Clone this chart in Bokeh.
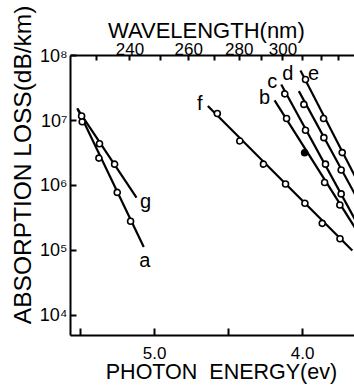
from bokeh.plotting import figure
from bokeh.models import Range1d, LinearAxis, FixedTicker
from bokeh.core.properties import value
from bokeh.embed import file_html
from bokeh.resources import INLINE

# ---------------- data ----------------
HC = 1239.84  # eV*nm, photon energy <-> wavelength

# curve a
a_energy = [5.489, 5.376, 5.252, 5.162]
a_loss = [9.6e6, 2.64e6, 7.8e5, 2.8e5]
a_line_energy = [5.522, 5.073]
a_line_loss = [1.55e7, 1.12e5]
# curve g
g_energy = [5.493, 5.372, 5.270]
g_loss = [1.18e7, 4.4e6, 2.13e6]
g_line_energy = [5.520, 5.122]
g_line_loss = [1.5e7, 6.5e5]
# curve f
f_energy = [4.576, 4.424, 4.264, 4.115, 3.984, 3.867, 3.747]
f_loss = [1.29e7, 4.86e6, 2.13e6, 1.05e6, 5.3e5, 2.6e5, 1.5e5]
f_line_energy = [4.640, 3.664]
f_line_loss = [1.68e7, 9.9e4]
# curve b
b_energy = [4.108, 3.986, 3.851, 3.748]
b_loss = [1.08e7, 3.2e6, 1.11e6, 5.0e5]
b_line_energy = [4.189, 3.608]
b_line_loss = [2.05e7, 1.63e5]
# curve c
c_energy = [4.120, 3.980, 3.845, 3.739]
c_loss = [2.59e7, 7.1e6, 2.13e6, 7.4e5]
c_line_energy = [4.144, 3.608]
c_line_loss = [3.6e7, 2.08e5]
# curve d
d_energy = [3.991, 3.856, 3.739]
d_loss = [1.78e7, 5.46e6, 1.73e6]
d_line_energy = [4.025, 3.608]
d_line_loss = [2.85e7, 5.06e5]
# curve e
e_energy = [3.980, 3.858, 3.732]
e_loss = [4.31e7, 1.08e7, 3.21e6]
e_line_energy = [4.014, 3.608]
e_line_loss = [5.93e7, 9.4e5]

energy_ticks = [5.5, 5.0, 4.5, 4.0]
energy_labels = {5.0: "5.0", 4.0: "4.0"}
wavelength_ticks = [230, 240, 250, 260, 270, 280, 290, 300, 310, 320, 330]
wavelength_labels = [240, 260, 280, 300]
loss_ticks = [1e4, 1e5, 1e6, 1e7, 1e8]
loss_labels = ["10\u2074", "10\u2075", "10\u2076", "10\u2077", "10\u2078"]

curves = {
    "a": (a_energy, a_loss, a_line_energy, a_line_loss),
    "g": (g_energy, g_loss, g_line_energy, g_line_loss),
    "f": (f_energy, f_loss, f_line_energy, f_line_loss),
    "b": (b_energy, b_loss, b_line_energy, b_line_loss),
    "c": (c_energy, c_loss, c_line_energy, c_line_loss),
    "d": (d_energy, d_loss, d_line_energy, d_line_loss),
    "e": (e_energy, e_loss, e_line_energy, e_line_loss),
}

# ---------------- styling / placement ----------------
FONT = "Liberation Sans"
# label anchor: which end of the line (0 start, 1 end) and pixel offset
label_place = {
    "a": (1, 1, 13),
    "g": (1, 9, 3),
    "f": (0, -8, -3),
    "b": (0, -10, -3),
    "c": (0, -9, -4),
    "d": (0, -11, -18),
    "e": (0, 13, 2),
}
filled_points = {"b": [1]}

p = figure(
    width=354, height=386,
    x_range=Range1d(5.568, 3.649),
    y_range=Range1d(10 ** 3.684, 10 ** 8.005),
    y_axis_type="log",
    output_backend="svg",
    toolbar_location=None,
    min_border_left=70, min_border_right=0,
    min_border_top=55, min_border_bottom=50,
)
p.outline_line_color = None
p.background_fill_color = "white"
p.border_fill_color = "white"
p.xgrid.visible = False
p.ygrid.visible = False

# bottom axis (photon energy)
xb = p.xaxis[0]
xb.ticker = FixedTicker(ticks=energy_ticks)
xb.major_label_overrides = {t: energy_labels.get(t, "") for t in energy_ticks}
xb.axis_label = "\u00a0\u00a0\u00a0PHOTON\u00a0 ENERGY(ev)"
xb.axis_label_text_font = FONT
xb.axis_label_text_font_style = "normal"
xb.axis_label_text_font_size = "21.5px"
xb.axis_label_text_color = "black"
xb.axis_label_standoff = -2
xb.major_label_text_font = FONT
xb.major_label_text_font_size = "17px"
xb.major_label_text_color = "black"
xb.major_label_standoff = 11
xb.major_tick_in = 7
xb.major_tick_out = 0
xb.minor_tick_line_color = None
xb.axis_line_width = 2
xb.major_tick_line_width = 2

# left axis (absorption loss)
yl = p.yaxis[0]
yl.ticker = FixedTicker(ticks=loss_ticks)
yl.major_label_overrides = dict(zip(loss_ticks, loss_labels))
yl.axis_label = "\u00a0" * 9 + "ABSORPTION LOSS(dB/km)"
yl.axis_label_text_font = FONT
yl.axis_label_text_font_style = "normal"
yl.axis_label_text_font_size = "24.5px"
yl.axis_label_text_color = "black"
yl.axis_label_standoff = 1
yl.major_label_text_font = FONT
yl.major_label_text_font_size = "18px"
yl.major_label_text_color = "black"
yl.major_label_standoff = 3
yl.major_tick_in = 6
yl.major_tick_out = 0
yl.minor_tick_line_color = None
yl.axis_line_width = 2
yl.major_tick_line_width = 2

# top axis (wavelength)
wl_pos = [HC / w for w in wavelength_ticks]
top = LinearAxis(
    ticker=FixedTicker(ticks=wl_pos),
    major_label_overrides={HC / w: (str(w) if w in wavelength_labels else "") for w in wavelength_ticks},
    axis_label="WAVELENGTH(nm)\u00a0\u00a0",
    axis_label_text_font=FONT,
    axis_label_text_font_style="normal",
    axis_label_text_font_size="22px",
    axis_label_text_color="black",
    axis_label_standoff=-3,
    major_label_text_font=FONT,
    major_label_text_font_size="17px",
    major_label_text_color="black",
    major_label_standoff=1,
    major_tick_in=5,
    major_tick_out=0,
    minor_tick_line_color=None,
    axis_line_width=2,
    major_tick_line_width=2,
)
p.add_layout(top, "above")

for name, (en, loss, len_, lloss) in curves.items():
    p.line(len_, lloss, line_color="black", line_width=2.2)
    fills = ["black" if i in filled_points.get(name, []) else "white" for i in range(len(en))]
    p.scatter(en, loss, marker="circle", size=6, line_color="black",
              line_width=1.6, fill_color=fills)
    end, dx, dy = label_place[name]
    p.text([len_[end]], [lloss[end]], text=[name], x_offset=dx, y_offset=dy,
           text_font=value(FONT), text_font_size="20px", text_color="black",
           text_align="center", text_baseline="middle")

open("out.html", "w").write(file_html(p, INLINE))
